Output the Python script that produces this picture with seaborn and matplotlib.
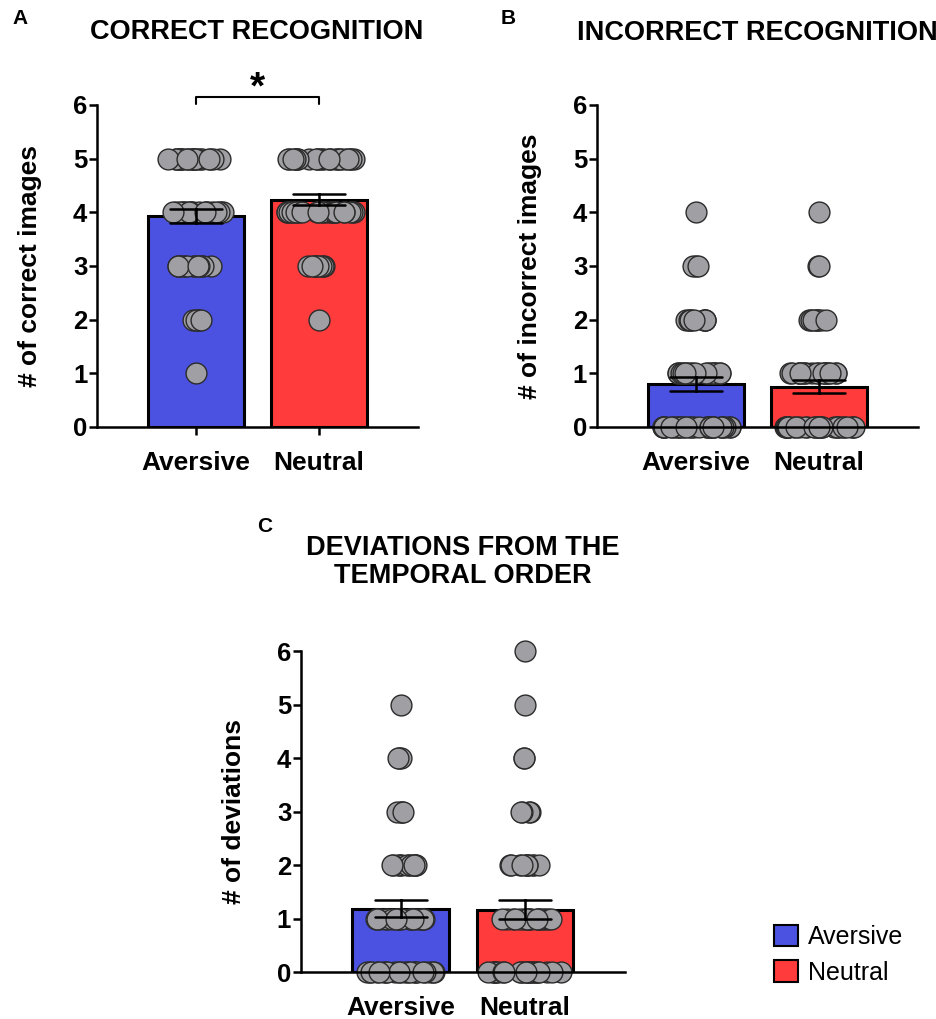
import numpy as np
import pandas as pd
import seaborn as sns
import matplotlib.pyplot as plt
from matplotlib.patches import Patch

groups = ['Aversive', 'Neutral']
colors = ['#4b52e1', '#ff3b3b']

# score levels and how many subjects got each score
correct_levels = [5, 4, 3, 2, 1]
correct_aversive = [22, 19, 13, 5, 1]
correct_neutral = [25, 25, 9, 1, 0]

incorrect_levels = [0, 1, 2, 3, 4]
incorrect_aversive = [30, 17, 9, 3, 1]
incorrect_neutral = [30, 19, 8, 2, 1]

deviation_levels = [0, 1, 2, 3, 4, 5, 6]
deviation_aversive = [22, 18, 12, 4, 3, 1, 0]
deviation_neutral = [24, 17, 11, 4, 2, 1, 1]


def make_df(levels, aversive, neutral):
    rows = []
    for g, counts in zip(groups, [aversive, neutral]):
        for v in np.repeat(levels, counts):
            rows.append({'group': g, 'score': v})
    return pd.DataFrame(rows)


sns.set_style("ticks")
plt.rcParams['font.family'] = ['Liberation Sans', 'DejaVu Sans']
plt.rcParams['text.color'] = 'black'
plt.rcParams['axes.labelcolor'] = 'black'
plt.rcParams['axes.edgecolor'] = 'black'
plt.rcParams['xtick.color'] = 'black'
plt.rcParams['ytick.color'] = 'black'

fig = plt.figure(figsize=(9.37, 10.19), dpi=100)


def draw(ax, df, ylabel):
    sns.barplot(data=df, x='group', y='score', hue='group', order=groups,
                palette=colors, saturation=1, errorbar='se', capsize=0.42, width=0.78,
                edgecolor='black', linewidth=2.2, legend=False,
                err_kws={'color': 'black', 'linewidth': 1.8}, ax=ax)
    # spread of the dots grows with how many share a score, like the prism scatter
    for (g, v), sub in df.groupby(['group', 'score']):
        jit = min(0.3, 0.013 * (len(sub) - 1))
        sns.stripplot(data=sub, x='group', y='score', order=groups, color='#a0a0a4',
                      edgecolor='#2b2b2b', linewidth=1, size=15, jitter=jit,
                      clip_on=False, zorder=1.5, ax=ax)
    for line in ax.lines:
        line.set_zorder(3)
    ax.set_xlim(-0.805, 1.805)
    ax.set_ylim(0, 6)
    ax.set_yticks(range(7))
    ax.set_xlabel('')
    ax.set_ylabel(ylabel, fontsize=19, fontweight='bold')
    ax.yaxis.set_label_coords(-0.17, 0.5)
    ax.tick_params(axis='y', width=1.8, length=6, pad=1, labelsize=18.5)
    ax.tick_params(axis='x', width=1.8, length=6, pad=11, labelsize=19)
    for lab in ax.get_xticklabels() + ax.get_yticklabels():
        lab.set_fontweight('bold')
    sns.despine(ax=ax)
    for s in ['left', 'bottom']:
        ax.spines[s].set_linewidth(1.8)


np.random.seed(3)

axA = fig.add_axes([0.1035, 0.581, 0.3426, 0.316])
draw(axA, make_df(correct_levels, correct_aversive, correct_neutral), '# of correct images')
axA.plot([0, 0, 1, 1], [6.01, 6.15, 6.15, 6.01], color='black', lw=1.5, clip_on=False)
axA.text(0.5, 6.3, '*', ha='center', va='center', fontsize=28, fontweight='bold')

axB = fig.add_axes([0.6371, 0.581, 0.3426, 0.316])
draw(axB, make_df(incorrect_levels, incorrect_aversive, incorrect_neutral), '# of incorrect images')

axC = fig.add_axes([0.3212, 0.0461, 0.3458, 0.315])
draw(axC, make_df(deviation_levels, deviation_aversive, deviation_neutral), '# of deviations')

fig.text(257 / 937, 1 - 32 / 1019, 'CORRECT RECOGNITION', ha='center', va='center',
         fontsize=19.5, fontweight='bold')
fig.text(757 / 937, 1 - 33 / 1019, 'INCORRECT RECOGNITION', ha='center', va='center',
         fontsize=19.5, fontweight='bold')
fig.text(463 / 937, 1 - 562 / 1019, 'DEVIATIONS FROM THE\nTEMPORAL ORDER', ha='center',
         va='center', fontsize=19.5, fontweight='bold', linespacing=1.1)

fig.text(20 / 937, 1 - 18 / 1019, 'A', ha='center', va='center', fontsize=15, fontweight='heavy')
fig.text(508 / 937, 1 - 18 / 1019, 'B', ha='center', va='center', fontsize=15, fontweight='heavy')
fig.text(265 / 937, 1 - 526 / 1019, 'C', ha='center', va='center', fontsize=15, fontweight='heavy')

handles = [Patch(facecolor=c, edgecolor='black', linewidth=1.5, label=g)
           for g, c in zip(groups, colors)]
fig.legend(handles=handles, loc='upper left', bbox_to_anchor=(752 / 937, 1 - 902 / 1019),
           frameon=False, fontsize=18, handlelength=0.95, handleheight=0.95,
           handletextpad=0.4, labelspacing=0.45)

fig.savefig('out.png', dpi=100)
